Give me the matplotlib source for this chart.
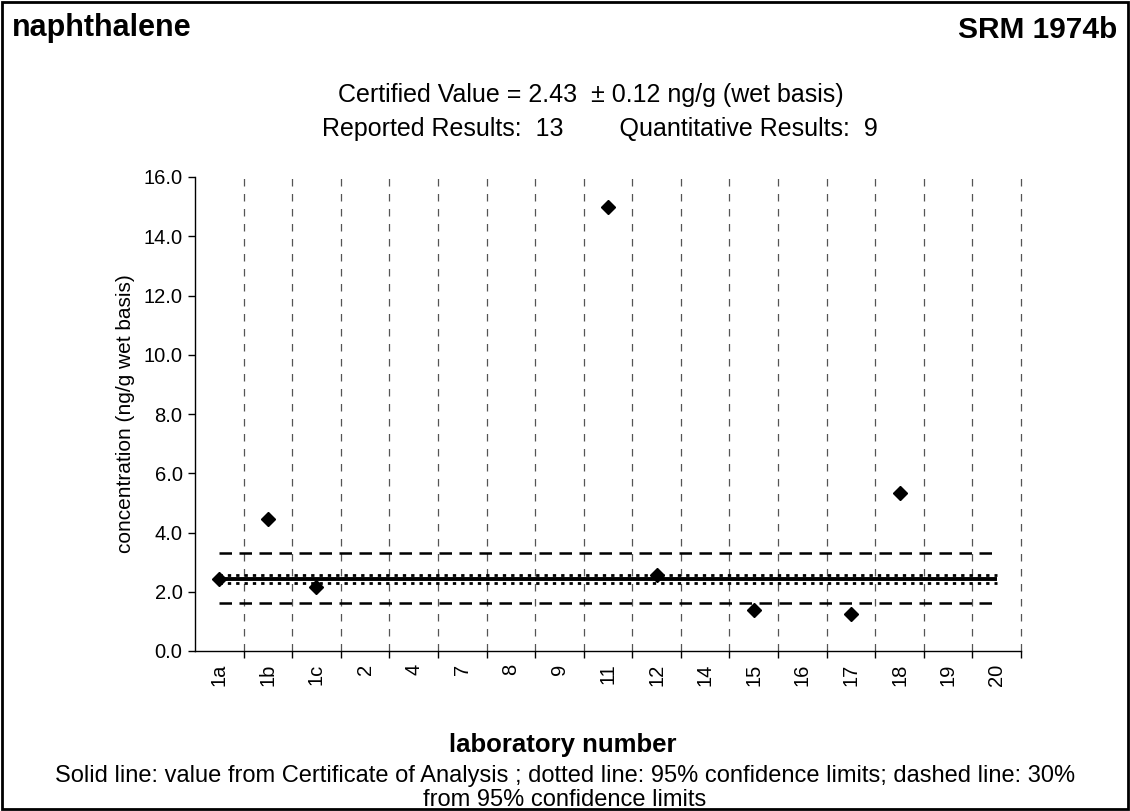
import matplotlib
matplotlib.use("Agg")
import matplotlib.pyplot as plt
import numpy as np
from matplotlib.patches import Rectangle

plt.rcParams['font.family'] = ['Liberation Sans', 'DejaVu Sans']

labs = ['1a', '1b', '1c', '2', '4', '7', '8', '9', '11', '12', '14', '15', '16', '17', '18', '19', '20']
result_labs = ['1a', '1b', '1c', '11', '12', '15', '17', '18']
result_vals = [2.43, 4.47, 2.16, 15.0, 2.56, 1.37, 1.26, 5.33]
certified = 2.43
uncert = 0.12
reported = 13
quantitative = 9

fig = plt.figure(figsize=(11.3, 8.11), dpi=100)
ax = fig.add_axes([195/1130, 1-651/811, (1021-195)/1130, (651-177)/811])

n = len(labs)
xs = np.arange(n)
lo = certified - uncert
hi = certified + uncert

ax.plot(xs, np.full(n, certified), color='black', lw=2.8, solid_capstyle='butt', zorder=3)
ax.plot(xs, np.full(n, lo), color='black', lw=2.0, linestyle=(0, (1.2, 1.8)), zorder=3)
ax.plot(xs, np.full(n, hi), color='black', lw=2.0, linestyle=(0, (1.2, 1.8)), zorder=3)
ax.plot(xs, np.full(n, lo * 0.7), color='black', lw=1.8, linestyle=(0, (5, 3)), zorder=3)
ax.plot(xs, np.full(n, hi * 1.3), color='black', lw=1.8, linestyle=(0, (5, 3)), zorder=3)

px = [labs.index(l) for l in result_labs]
ax.plot(px, result_vals, linestyle='none', marker='D', ms=7.5, color='black', zorder=4)

ax.set_xlim(-0.5, n - 0.5)
ax.set_ylim(0, 16)
ax.set_yticks(np.arange(0, 16.1, 2))
ax.set_yticklabels([f"{v:.1f}" for v in np.arange(0, 16.1, 2)], fontsize=14.5)
ax.set_xticks(xs)
ax.set_xticklabels(labs, rotation=90, fontsize=14.5)
ax.tick_params(axis='x', which='major', length=0, pad=9)
ax.set_xticks(np.arange(0.5, n + 0.1, 1), minor=True)
ax.tick_params(axis='x', which='minor', length=5, width=1, direction='out')
ax.tick_params(axis='y', length=5, width=1, direction='out', pad=4)
for b in np.arange(0.5, n + 0.1, 1):
    ax.axvline(b, color='#555555', lw=0.9, linestyle=(0, (6, 6)), zorder=1, clip_on=False)
ax.spines['top'].set_visible(False)
ax.spines['right'].set_visible(False)
ax.spines['left'].set_linewidth(1)
ax.spines['bottom'].set_linewidth(1)

ax.set_ylabel('concentration (ng/g wet basis)', fontsize=15, labelpad=6)

fig.text(12/1130, 1-28/811, 'naphthalene', fontsize=22, fontweight='bold', ha='left', va='center')
fig.text(1117/1130, 1-30/811, 'SRM 1974b', fontsize=21.5, fontweight='bold', ha='right', va='center')
fig.text(591/1130, 1-95/811, f'Certified Value = {certified:.2f}  \u00b1 {uncert:.2f} ng/g (wet basis)',
         fontsize=18, ha='center', va='center')
fig.text(600/1130, 1-129/811, f'Reported Results:  {reported}        Quantitative Results:  {quantitative}',
         fontsize=18, ha='center', va='center')
fig.text(563/1130, 1-745/811, 'laboratory number', fontsize=18.5, fontweight='bold', ha='center', va='center')
fig.text(565/1130, 1-776/811,
         'Solid line: value from Certificate of Analysis ; dotted line: 95% confidence limits; dashed line: 30%',
         fontsize=17, ha='center', va='center')
fig.text(565/1130, 1-800/811, 'from 95% confidence limits', fontsize=17, ha='center', va='center')

fig.patches.append(Rectangle((0.002, 0.002), 0.996, 0.996, transform=fig.transFigure,
                             fill=False, edgecolor='black', lw=2))

fig.savefig('out.png', dpi=100)
